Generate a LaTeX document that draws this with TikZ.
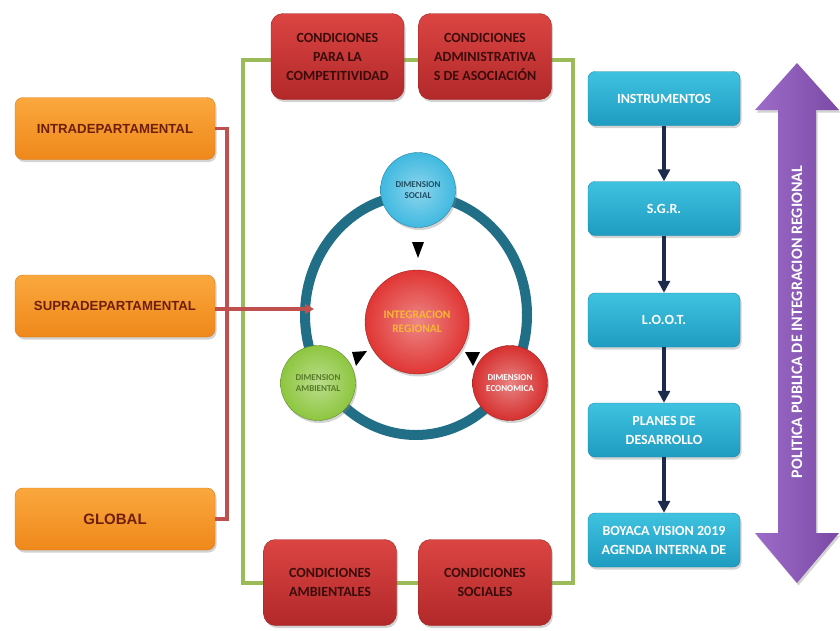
\documentclass[tikz,border=0pt]{standalone}
\usepackage{fontspec}
\setmainfont{Carlito}
\newfontfamily\heavyfont{Liberation Sans}
\usetikzlibrary{arrows.meta,shapes.geometric,shadows}
\definecolor{orangetop}{HTML}{FAA83E}
\definecolor{orangebot}{HTML}{EF881A}
\definecolor{orangeline}{HTML}{D9791A}
\definecolor{orangetext}{HTML}{6E1E0C}
\definecolor{redtop}{HTML}{DB4542}
\definecolor{redbot}{HTML}{B2282A}
\definecolor{redline}{HTML}{9E2422}
\definecolor{condtext}{HTML}{3A0C0C}
\definecolor{bluetop}{HTML}{3FC2E0}
\definecolor{bluebot}{HTML}{1E9CC1}
\definecolor{blueline}{HTML}{1A86A8}
\definecolor{framegreen}{HTML}{9BBB59}
\definecolor{linkred}{HTML}{C0504D}
\definecolor{ringblue}{HTML}{216F86}
\definecolor{navy}{HTML}{1C2B4B}
\definecolor{polleft}{HTML}{9D6CC9}
\definecolor{polright}{HTML}{7A4AA6}
\definecolor{integfill}{HTML}{E03634}
\definecolor{integtext}{HTML}{F8B734}
\definecolor{socialfill}{HTML}{40B9E0}
\definecolor{socialtext}{HTML}{1E4E63}
\definecolor{ambientfill}{HTML}{8DC63F}
\definecolor{ambienttext}{HTML}{587A28}
\definecolor{econfill}{HTML}{D6302F}
\tikzset{
  dropshade/.style={drop shadow={opacity=0.35,shadow xshift=1.5pt,shadow yshift=-2.5pt}},
  level/.style={rectangle,rounded corners=8pt,draw=orangeline,top color=orangetop,bottom color=orangebot,
    minimum width=200pt,minimum height=62pt,text=orangetext,dropshade,
    font=\heavyfont\bfseries\fontsize{13.2}{15}\selectfont},
  cond/.style={rectangle,rounded corners=12pt,draw=redline,top color=redtop,bottom color=redbot,
    minimum width=133pt,minimum height=86pt,text=condtext,align=center,dropshade,
    font=\bfseries\fontsize{14}{19}\selectfont},
  tool/.style={rectangle,rounded corners=7pt,draw=blueline,top color=bluetop,bottom color=bluebot,
    minimum width=152pt,minimum height=54pt,text=white,align=center,dropshade,
    font=\bfseries\fontsize{14}{19}\selectfont},
  dim/.style={circle,draw=#1!70!black,inner color=#1!60!white,outer color=#1,minimum size=75pt,
    align=center,dropshade,font=\bfseries\fontsize{9}{11.5}\selectfont},
  flow/.style={->,>={Triangle[length=12pt,width=12pt]},line width=4pt,draw=navy},
  link/.style={line width=3.5pt,draw=linkred}
}
\begin{document}
\begin{tikzpicture}[x=1pt,y=-1pt]
  \useasboundingbox (0,0) rectangle (840,630);
  \draw[line width=3.5pt,draw=framegreen] (243,60) rectangle (573,583);
  \node[level] (intra) at (115,128.5) {INTRADEPARTAMENTAL};
  \node[level] (supra) at (115,306) {SUPRADEPARTAMENTAL};
  \node[level,font=\heavyfont\bfseries\fontsize{15}{17}\selectfont] (global) at (115,519) {GLOBAL};
  \draw[link] (intra.east) -- ++(12,0) |- (global.east);
  \node[cond] (compet) at (337.5,56.5) {CONDICIONES\\PARA LA\\COMPETITIVIDAD};
  \node[cond] (admin) at (485,56.5) {CONDICIONES\\ADMINISTRATIVA\\S DE ASOCIACIÓN};
  \node[cond] (ambcond) at (330,582.5) {CONDICIONES\\AMBIENTALES};
  \node[cond] (soccond) at (485,582.5) {CONDICIONES\\SOCIALES};
  \node[ellipse,draw=ringblue,line width=10pt,minimum width=222pt,minimum height=240pt] (ring) at (416,315) {};
  \coordinate (target) at (314,309);
  \draw[link,-{Triangle[length=9pt,width=10pt]}] (supra.east |- target) -- (target);
  \node[dim=integfill,minimum size=104pt,text=integtext,
    font=\bfseries\fontsize{11.5}{14.5}\selectfont] (integ) at (417,322) {INTEGRACION\\REGIONAL};
  \node[dim=socialfill,text=socialtext] (social) at (418,190) {DIMENSION\\SOCIAL};
  \node[dim=ambientfill,text=ambienttext] (ambient) at (318,383) {DIMENSION\\AMBIENTAL};
  \node[dim=econfill,text=white] (econ) at (510,383) {DIMENSION\\ECONOMICA};
  \coordinate (tiptop) at (418,250);
  \coordinate (tipleft) at (359,358);
  \coordinate (tipright) at (473,358);
  \fill (tiptop) ++(-6,-8) -- ++(12,0) -- ++(-6,16) -- cycle;
  \fill (tipleft) ++(-7,-6) -- ++(15,-1) -- ++(-11,15) -- cycle;
  \fill (tipright) ++(-8,-6) -- ++(15,0) -- ++(-7,14) -- cycle;
  \node[tool] (instr) at (664,98.5) {INSTRUMENTOS};
  \node[tool] (sgr) at (664,208.5) {S.G.R.};
  \node[tool] (loot) at (664,320) {L.O.O.T.};
  \node[tool] (planes) at (664,430) {PLANES DE\\DESARROLLO};
  \node[tool] (boyaca) at (664,540) {BOYACA VISION 2019\\AGENDA INTERNA DE};
  \draw[flow] (instr) -- (sgr);
  \draw[flow] (sgr) -- (loot);
  \draw[flow] (loot) -- (planes);
  \draw[flow] (planes) -- (boyaca);
  \shade[left color=polleft,right color=polright,dropshade]
    (778,110) -- (755,110) -- (797,63) -- (839,110) -- (816,110) -- (816,533)
    -- (839,533) -- (797,583) -- (755,533) -- (778,533) -- cycle;
  \node[rotate=90,text=white,font=\bfseries\fontsize{16}{18}\selectfont] (policy) at (797,322)
    {POLITICA PUBLICA DE INTEGRACION REGIONAL};
\end{tikzpicture}
\end{document}
